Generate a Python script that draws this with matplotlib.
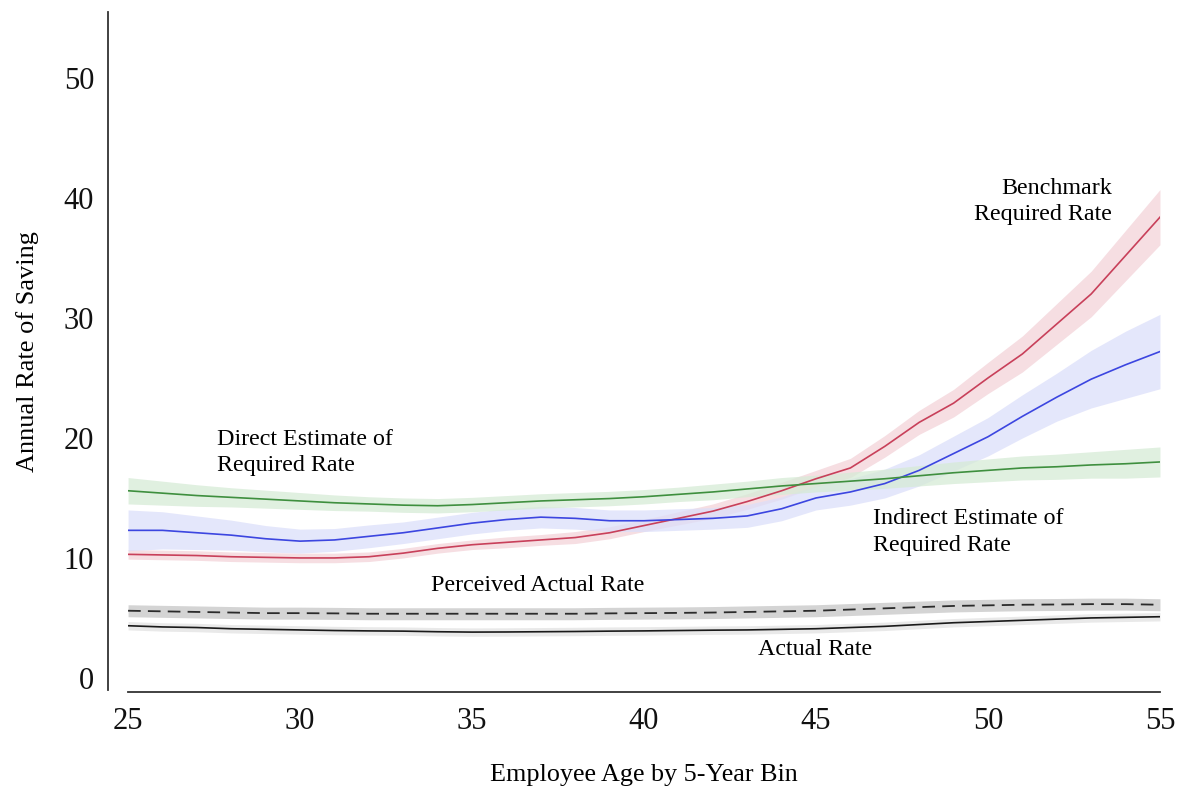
import numpy as np
import matplotlib
matplotlib.use("Agg")
import matplotlib.pyplot as plt

plt.rcParams['font.family'] = ['Liberation Serif', 'DejaVu Serif']

# employee age, one point per year
age = list(range(25, 56))

benchmark = [10.3, 10.25, 10.2, 10.1, 10.05, 10.0, 10.0, 10.1, 10.4, 10.8,
             11.1, 11.3, 11.5, 11.7, 12.1, 12.7, 13.3, 13.9, 14.7, 15.6,
             16.6, 17.5, 19.3, 21.3, 22.9, 25.0, 27.0, 29.5, 32.0, 35.2, 38.4]
benchmark_ci = [0.4, 0.4, 0.4, 0.4, 0.4, 0.4, 0.4, 0.4, 0.4, 0.4,
                0.4, 0.45, 0.45, 0.5, 0.5, 0.5, 0.55, 0.6, 0.65, 0.7,
                0.7, 0.8, 0.9, 1.0, 1.15, 1.3, 1.5, 1.7, 1.9, 2.1, 2.3]

indirect = [12.3, 12.3, 12.1, 11.9, 11.6, 11.4, 11.5, 11.8, 12.1, 12.5,
            12.9, 13.2, 13.4, 13.3, 13.1, 13.1, 13.2, 13.3, 13.5, 14.1,
            15.0, 15.5, 16.2, 17.3, 18.7, 20.1, 21.8, 23.4, 24.9, 26.1, 27.2]
indirect_ci = [1.7, 1.55, 1.4, 1.25, 1.1, 1.0, 0.95, 0.95, 0.9, 0.9,
               0.9, 0.9, 0.9, 0.9, 0.9, 0.9, 0.9, 0.9, 0.95, 1.0,
               1.0, 1.1, 1.2, 1.3, 1.45, 1.6, 1.8, 2.0, 2.4, 2.8, 3.1]

direct = [15.6, 15.4, 15.2, 15.05, 14.9, 14.75, 14.6, 14.5, 14.4, 14.35,
          14.45, 14.6, 14.75, 14.85, 14.95, 15.1, 15.3, 15.5, 15.75, 16.0,
          16.2, 16.4, 16.6, 16.85, 17.1, 17.3, 17.5, 17.6, 17.75, 17.85, 18.0]
direct_ci = [1.1, 1.0, 0.9, 0.8, 0.75, 0.7, 0.65, 0.6, 0.6, 0.6,
             0.6, 0.6, 0.6, 0.6, 0.6, 0.6, 0.6, 0.65, 0.65, 0.7,
             0.7, 0.75, 0.8, 0.85, 0.9, 0.95, 1.0, 1.05, 1.1, 1.2, 1.25]

perceived = [5.6, 5.55, 5.5, 5.45, 5.4, 5.4, 5.38, 5.35, 5.35, 5.35,
             5.35, 5.35, 5.35, 5.35, 5.38, 5.4, 5.42, 5.45, 5.5, 5.55,
             5.6, 5.7, 5.8, 5.9, 6.0, 6.05, 6.1, 6.12, 6.15, 6.15, 6.1]
perceived_ci = [0.5] * 31

actual = [4.35, 4.25, 4.2, 4.1, 4.05, 4.0, 3.95, 3.92, 3.9, 3.85,
          3.82, 3.83, 3.85, 3.87, 3.9, 3.92, 3.95, 3.98, 4.0, 4.05,
          4.1, 4.2, 4.3, 4.45, 4.6, 4.7, 4.8, 4.9, 5.0, 5.05, 5.1]
actual_ci = [0.35] * 31

x_ticks = [25, 30, 35, 40, 45, 50, 55]
y_ticks = [0, 10, 20, 30, 40, 50]

fig = plt.figure(figsize=(11.78, 7.95), dpi=100)
ax = fig.add_axes([0.1087, 0.1296, 0.876, 0.8553])

series = [
    (benchmark, benchmark_ci, '#c8405a', '#f3d3d9', '-'),
    (indirect, indirect_ci, '#3c46e0', '#dcdffa', '-'),
    (direct, direct_ci, '#3f8f3f', '#d6ebd6', '-'),
    (perceived, perceived_ci, '#2b2b2b', '#c6c6c6', '--'),
    (actual, actual_ci, '#1a1a1a', '#e2e2e2', '-'),
]
a = np.array(age)
for vals, ci, col, fill, ls in series:
    v = np.array(vals)
    c = np.array(ci)
    ax.fill_between(a, v - c, v + c, color=fill, alpha=0.75, lw=0)
    if ls == '--':
        ax.plot(a, v, color=col, lw=1.3, dashes=(7, 4))
    else:
        ax.plot(a, v, color=col, lw=1.2)

fs = 17.3
ax.text(27.6, 18.8, 'Direct Estimate of\nRequired Rate', fontsize=fs, ha='left', va='center', linespacing=1.35)
ax.text(53.6, 39.7, 'Benchmark\nRequired Rate', fontsize=fs, ha='right', va='center', multialignment='right', linespacing=1.35)
ax.text(46.66, 12.15, 'Indirect Estimate of\nRequired Rate', fontsize=fs, ha='left', va='center', linespacing=1.35)
ax.text(33.82, 7.74, 'Perceived Actual Rate', fontsize=fs, ha='left', va='center')
ax.text(43.3, 2.41, 'Actual Rate', fontsize=fs, ha='left', va='center')

ax.set_xlim(25, 55)
ax.set_ylim(-1.17, 55.5)
ax.set_xticks(x_ticks)
ax.set_yticks(y_ticks)
ax.tick_params(length=0, labelsize=22, colors='#111111')
ax.tick_params(axis='x', pad=11)
ax.tick_params(axis='y', pad=10)

for s in ['top', 'right']:
    ax.spines[s].set_visible(False)
ax.spines['left'].set_position(('outward', 14.4))
ax.spines['left'].set_bounds(-1.0, 55.5)
for s in ['left', 'bottom']:
    ax.spines[s].set_color('#333333')
    ax.spines[s].set_linewidth(1.3)

ax.set_xlabel('Employee Age by 5-Year Bin', fontsize=18.8, labelpad=20)
ax.set_ylabel('Annual Rate of Saving', fontsize=19, labelpad=18)

fig.savefig('out.png', dpi=100)
